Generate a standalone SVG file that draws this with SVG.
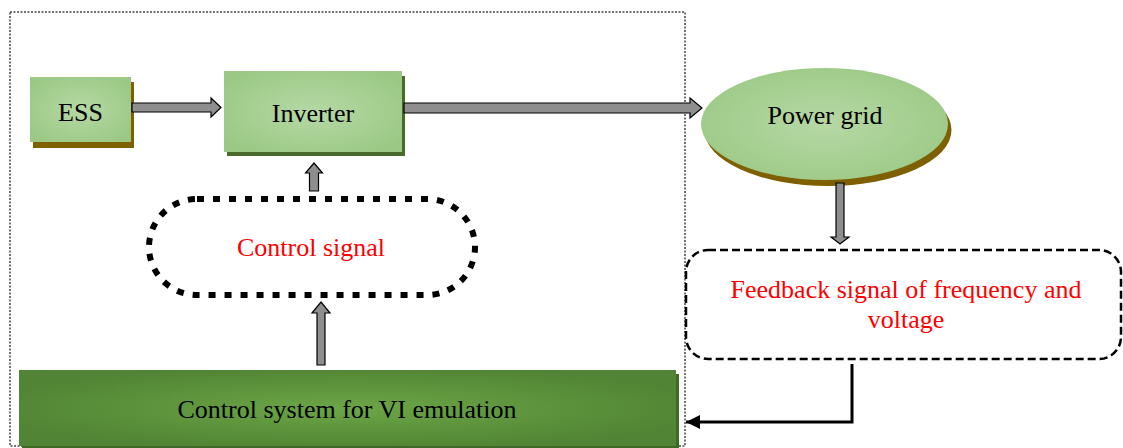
<svg xmlns="http://www.w3.org/2000/svg" width="1123" height="448" viewBox="0 0 1123 448">
  <defs>
    <radialGradient id="lightGreen" cx="50%" cy="50%" r="60%">
      <stop offset="0" stop-color="#b6d8a5"/>
      <stop offset="1" stop-color="#9bc985"/>
    </radialGradient>
    <radialGradient id="darkGreen" cx="50%" cy="50%" r="55%">
      <stop offset="0" stop-color="#6ca646"/>
      <stop offset="1" stop-color="#518434"/>
    </radialGradient>
    <marker id="blackHead" markerWidth="14" markerHeight="14" refX="14" refY="7" orient="auto" markerUnits="userSpaceOnUse">
      <path d="M0,0 L14,7 L0,14 Z" fill="#000"/>
    </marker>
  </defs>
  <style>
    .label { font-family: "Liberation Serif", "Times New Roman", serif; font-size: 26px; text-anchor: middle; fill: #000; }
    .red { fill: #ff0000; }
    .fat { fill: #8e8e8e; stroke: #000; stroke-width: 1.2; stroke-linejoin: miter; }
  </style>

  <rect x="0" y="0" width="1123" height="448" fill="#ffffff"/>

  <!-- dotted boundary of the storage side -->
  <rect x="10" y="12" width="675" height="434" fill="none" stroke="#444" stroke-width="1.5" stroke-dasharray="2 1.5"/>

  <g id="ess">
    <rect x="33" y="82" width="101" height="66" fill="#7f6000"/>
    <rect x="30" y="77" width="101" height="65" fill="url(#lightGreen)"/>
    <text class="label" x="80.5" y="120.5">ESS</text>
  </g>

  <g id="inverter">
    <rect x="227" y="76" width="178" height="80" fill="#4a6a2c"/>
    <rect x="224" y="71" width="178" height="81" fill="url(#lightGreen)"/>
    <text class="label" x="313" y="121.5">Inverter</text>
  </g>

  <g id="power-grid">
    <ellipse cx="828" cy="130" rx="123.5" ry="56" fill="#7f6000"/>
    <ellipse cx="824.5" cy="124" rx="123.5" ry="56" fill="url(#lightGreen)"/>
    <text class="label" x="825" y="124">Power grid</text>
  </g>

  <g id="control-signal">
    <rect x="149" y="199" width="326" height="96" rx="48" ry="48" fill="none" stroke="#000" stroke-width="6" stroke-dasharray="7 9"/>
    <text class="label red" x="311" y="256">Control signal</text>
  </g>

  <g id="feedback">
    <rect x="686" y="250" width="435" height="109" rx="22" ry="22" fill="none" stroke="#000" stroke-width="2.5" stroke-dasharray="8 4"/>
    <text class="label red" x="906" y="298">Feedback signal of frequency and</text>
    <text class="label red" x="906" y="328">voltage</text>
  </g>

  <g id="control-system">
    <rect x="22" y="374" width="657" height="74" fill="#3f6a26"/>
    <rect x="19" y="370" width="657" height="76" fill="url(#darkGreen)"/>
    <text class="label" x="347" y="418">Control system for VI emulation</text>
  </g>

  <g id="connectors">
    <!-- ESS to inverter -->
    <polygon class="fat" points="132,103 211,103 211,98 221,107.5 211,117 211,112 132,112"/>
    <!-- inverter to power grid -->
    <polygon class="fat" points="404,103 690,103 690,98 702,108 690,118 690,113 404,113"/>
    <!-- power grid down to feedback -->
    <polygon class="fat" points="836,183 844,183 844,237 849,237 840,244 831,237 836,237"/>
    <!-- control signal up to inverter -->
    <polygon class="fat" points="309.5,191 318.5,191 318.5,173 322.5,173 314,163 305.5,173 309.5,173"/>
    <!-- control system up to control signal -->
    <polygon class="fat" points="317,365 325,365 325,313 330,313 321,302 312,313 317,313"/>
    <!-- feedback back to control system -->
    <polyline points="852,364 852,422 686,422" fill="none" stroke="#000" stroke-width="3" marker-end="url(#blackHead)"/>
  </g>
</svg>
